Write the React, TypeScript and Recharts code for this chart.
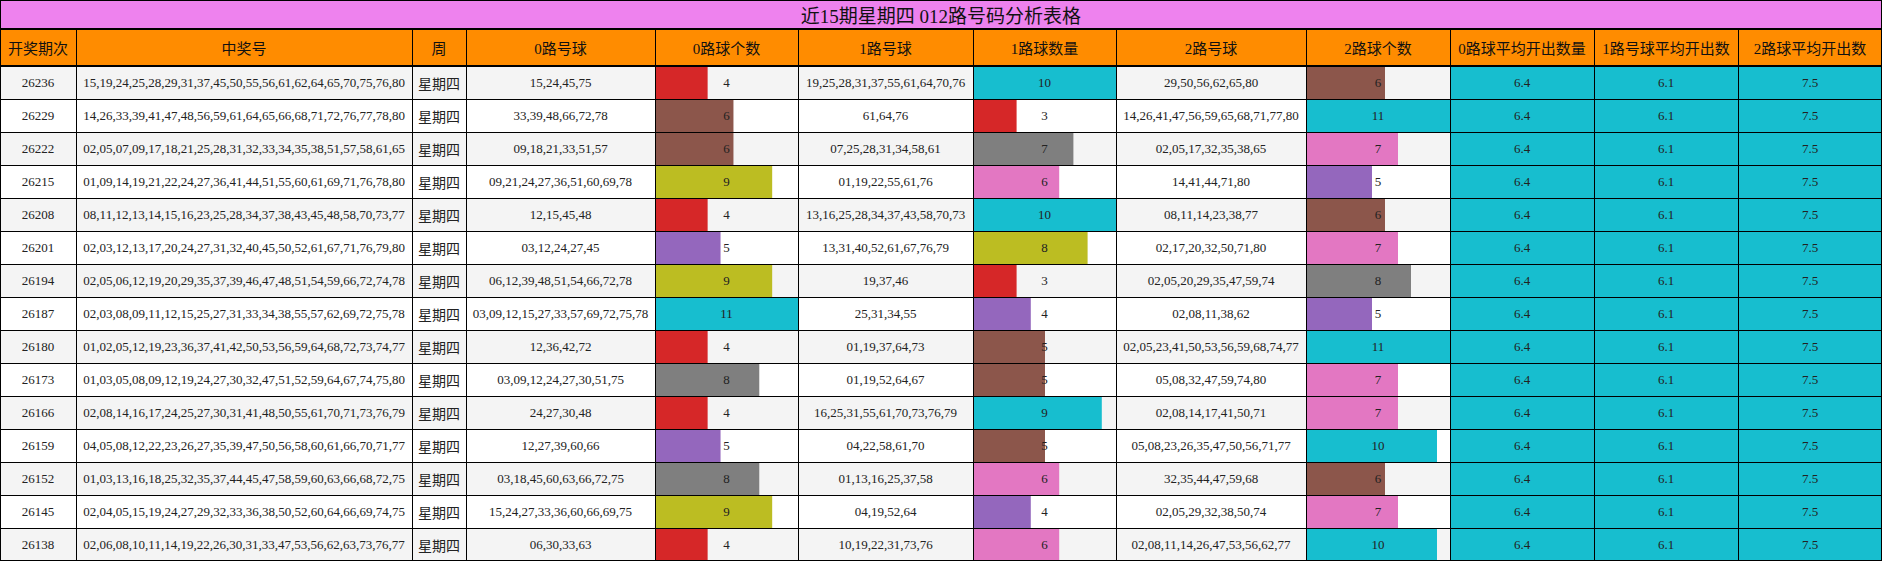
import React from "react";
import { BarChart, Bar, XAxis, YAxis, Cell, LabelList } from "recharts";

const title = "近15期星期四 012路号码分析表格";
const headers = [
  "开奖期次", "中奖号", "周", "0路号球", "0路球个数", "1路号球", "1路球数量",
  "2路号球", "2路球个数", "0路球平均开出数量", "1路号球平均开出数", "2路球平均开出数",
];
const periods = [
  "26236", "26229", "26222", "26215", "26208", "26201", "26194", "26187",
  "26180", "26173", "26166", "26159", "26152", "26145", "26138",
];
const winning = [
  "15,19,24,25,28,29,31,37,45,50,55,56,61,62,64,65,70,75,76,80",
  "14,26,33,39,41,47,48,56,59,61,64,65,66,68,71,72,76,77,78,80",
  "02,05,07,09,17,18,21,25,28,31,32,33,34,35,38,51,57,58,61,65",
  "01,09,14,19,21,22,24,27,36,41,44,51,55,60,61,69,71,76,78,80",
  "08,11,12,13,14,15,16,23,25,28,34,37,38,43,45,48,58,70,73,77",
  "02,03,12,13,17,20,24,27,31,32,40,45,50,52,61,67,71,76,79,80",
  "02,05,06,12,19,20,29,35,37,39,46,47,48,51,54,59,66,72,74,78",
  "02,03,08,09,11,12,15,25,27,31,33,34,38,55,57,62,69,72,75,78",
  "01,02,05,12,19,23,36,37,41,42,50,53,56,59,64,68,72,73,74,77",
  "01,03,05,08,09,12,19,24,27,30,32,47,51,52,59,64,67,74,75,80",
  "02,08,14,16,17,24,25,27,30,31,41,48,50,55,61,70,71,73,76,79",
  "04,05,08,12,22,23,26,27,35,39,47,50,56,58,60,61,66,70,71,77",
  "01,03,13,16,18,25,32,35,37,44,45,47,58,59,60,63,66,68,72,75",
  "02,04,05,15,19,24,27,29,32,33,36,38,50,52,60,64,66,69,74,75",
  "02,06,08,10,11,14,19,22,26,30,31,33,47,53,56,62,63,73,76,77",
];
const weekday = "星期四";
const road0Balls = [
  "15,24,45,75", "33,39,48,66,72,78", "09,18,21,33,51,57", "09,21,24,27,36,51,60,69,78",
  "12,15,45,48", "03,12,24,27,45", "06,12,39,48,51,54,66,72,78", "03,09,12,15,27,33,57,69,72,75,78",
  "12,36,42,72", "03,09,12,24,27,30,51,75", "24,27,30,48", "12,27,39,60,66",
  "03,18,45,60,63,66,72,75", "15,24,27,33,36,60,66,69,75", "06,30,33,63",
];
const road0Count = [4, 6, 6, 9, 4, 5, 9, 11, 4, 8, 4, 5, 8, 9, 4];
const road1Balls = [
  "19,25,28,31,37,55,61,64,70,76", "61,64,76", "07,25,28,31,34,58,61", "01,19,22,55,61,76",
  "13,16,25,28,34,37,43,58,70,73", "13,31,40,52,61,67,76,79", "19,37,46", "25,31,34,55",
  "01,19,37,64,73", "01,19,52,64,67", "16,25,31,55,61,70,73,76,79", "04,22,58,61,70",
  "01,13,16,25,37,58", "04,19,52,64", "10,19,22,31,73,76",
];
const road1Count = [10, 3, 7, 6, 10, 8, 3, 4, 5, 5, 9, 5, 6, 4, 6];
const road2Balls = [
  "29,50,56,62,65,80", "14,26,41,47,56,59,65,68,71,77,80", "02,05,17,32,35,38,65", "14,41,44,71,80",
  "08,11,14,23,38,77", "02,17,20,32,50,71,80", "02,05,20,29,35,47,59,74", "02,08,11,38,62",
  "02,05,23,41,50,53,56,59,68,74,77", "05,08,32,47,59,74,80", "02,08,14,17,41,50,71",
  "05,08,23,26,35,47,50,56,71,77", "32,35,44,47,59,68", "02,05,29,32,38,50,74",
  "02,08,11,14,26,47,53,56,62,77",
];
const road2Count = [6, 11, 7, 5, 6, 7, 8, 5, 11, 7, 7, 10, 6, 7, 10];
const avg0 = 6.4;
const avg1 = 6.1;
const avg2 = 7.5;

// ---- layout ----
const COL_X = [0, 76, 412, 466, 655, 798, 973, 1116, 1306, 1450, 1594, 1738, 1882];
const TITLE_H = 29;
const BODY_Y = 66;
const ROW_H = 33;
const FONT = "'Liberation Serif', 'Noto Sans CJK SC', serif";
const PALETTE = [
  "#1f77b4", "#ff7f0e", "#2ca02c", "#d62728", "#9467bd",
  "#8c564b", "#e377c2", "#7f7f7f", "#bcbd22", "#17becf",
];
const CYAN = "#17becf";
const shiftColor = (shift: number) => (v: number) =>
  PALETTE[Math.max(0, Math.min(9, v + shift))];

function DataBars({ col, values, color, fmt }: {
  col: number; values: number[]; color: (v: number) => string; fmt?: (v: number) => string;
}) {
  const w = COL_X[col + 1] - COL_X[col];
  const h = values.length * ROW_H;
  const rows = values.map((v, i) => ({ period: periods[i], value: v }));
  const max = Math.max(...values);
  return (
    <div style={{ position: "absolute", left: COL_X[col], top: BODY_Y, width: w, height: h }}>
      <BarChart layout="vertical" width={w} height={h} data={rows}
        margin={{ top: 0, right: 0, bottom: 0, left: 1 }} barCategoryGap={0}>
        <XAxis type="number" domain={[0, max]} hide />
        <YAxis type="category" dataKey="period" hide width={0} />
        <Bar dataKey="value" isAnimationActive={false}>
          {rows.map((r, i) => <Cell key={i} fill={color(r.value)} />)}
          <LabelList dataKey="value" content={(p: any) => {
            const vb = p.viewBox || {};
            const y = (vb.y ?? p.y) + (vb.height ?? p.height) / 2;
            return (
              <text x={w / 2} y={y} dy="0.35em" textAnchor="middle"
                fontSize={13} fontFamily={FONT} fill="#222">
                {fmt ? fmt(Number(p.value)) : p.value}
              </text>
            );
          }} />
        </Bar>
      </BarChart>
    </div>
  );
}

function TextCell({ col, row, text, size = 13 }: { col: number; row: number; text: string; size?: number }) {
  return (
    <div style={{
      position: "absolute", left: COL_X[col], top: BODY_Y + row * ROW_H,
      width: COL_X[col + 1] - COL_X[col], height: ROW_H,
      display: "flex", alignItems: "center", justifyContent: "center",
      fontSize: size, color: "#222", whiteSpace: "nowrap",
    }}>{text}</div>
  );
}

export default function App() {
  const n = periods.length;
  const bottom = BODY_Y + n * ROW_H;
  const line = (l: number, t: number, w: number, h: number, k: string) => (
    <div key={k} style={{ position: "absolute", left: l, top: t, width: w, height: h, background: "#000" }} />
  );
  const lines: React.ReactNode[] = [];
  lines.push(line(0, 0, 1882, 1, "top"));
  lines.push(line(0, TITLE_H - 1, 1882, 2, "title"));
  lines.push(line(0, BODY_Y - 1, 1882, 2, "head"));
  for (let r = 1; r <= n; r++) lines.push(line(0, BODY_Y + r * ROW_H - (r === n ? 1 : 0), 1882, 1, "r" + r));
  lines.push(line(0, 0, 1, bottom, "left"));
  lines.push(line(1881, 0, 1, bottom, "right"));
  for (let c = 1; c < COL_X.length - 1; c++) lines.push(line(COL_X[c], TITLE_H, 1, bottom - TITLE_H, "c" + c));

  return (
    <div style={{ position: "relative", width: 1882, height: 562, fontFamily: FONT, background: "#fff" }}>
      <style>{"body{margin:0}"}</style>
      <div style={{
        position: "absolute", left: 0, top: 0, width: 1882, height: TITLE_H, background: "#ee82ee",
        display: "flex", alignItems: "center", justifyContent: "center", fontSize: 19, color: "#111",
      }}>{title}</div>
      <div style={{ position: "absolute", left: 0, top: TITLE_H, width: 1882, height: BODY_Y - TITLE_H, background: "#ff8c00" }} />
      {headers.map((h, c) => (
        <div key={h} style={{
          position: "absolute", left: COL_X[c], top: TITLE_H, width: COL_X[c + 1] - COL_X[c],
          height: BODY_Y - TITLE_H, display: "flex", alignItems: "center", justifyContent: "center",
          fontSize: 15, color: "#111", whiteSpace: "nowrap",
        }}>{h}</div>
      ))}
      {periods.map((p, r) => (
        <div key={"bg" + p} style={{
          position: "absolute", left: 0, top: BODY_Y + r * ROW_H, width: 1882, height: ROW_H,
          background: r % 2 === 0 ? "#f4f4f4" : "#fff",
        }} />
      ))}
      {periods.map((p, r) => (
        <React.Fragment key={p}>
          <TextCell col={0} row={r} text={p} />
          <TextCell col={1} row={r} text={winning[r]} />
          <TextCell col={2} row={r} text={weekday} size={14} />
          <TextCell col={3} row={r} text={road0Balls[r]} />
          <TextCell col={5} row={r} text={road1Balls[r]} />
          <TextCell col={7} row={r} text={road2Balls[r]} />
        </React.Fragment>
      ))}
      <DataBars col={4} values={road0Count} color={shiftColor(-1)} />
      <DataBars col={6} values={road1Count} color={shiftColor(0)} />
      <DataBars col={8} values={road2Count} color={shiftColor(-1)} />
      <DataBars col={9} values={periods.map(() => avg0)} color={() => CYAN} fmt={(v) => v.toFixed(1)} />
      <DataBars col={10} values={periods.map(() => avg1)} color={() => CYAN} fmt={(v) => v.toFixed(1)} />
      <DataBars col={11} values={periods.map(() => avg2)} color={() => CYAN} fmt={(v) => v.toFixed(1)} />
      {lines}
    </div>
  );
}
